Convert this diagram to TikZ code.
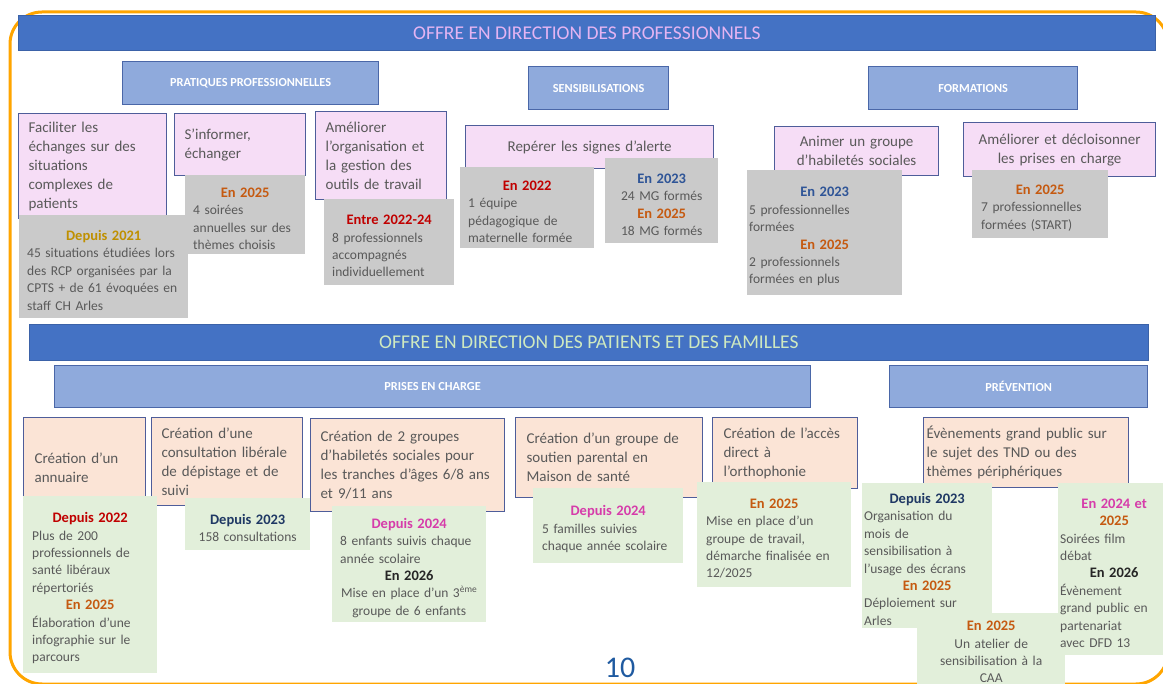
\documentclass[tikz,border=0pt]{standalone}
\usepackage{fontspec}
\setmainfont{Carlito}
\definecolor{bannerblue}{HTML}{4472C4}
\definecolor{bannerline}{HTML}{3B62A8}
\definecolor{catblue}{HTML}{8FAADC}
\definecolor{catline}{HTML}{4A67A8}
\definecolor{boxline}{HTML}{4E5D9A}
\definecolor{goalpink}{HTML}{F6DDF6}
\definecolor{actionpeach}{HTML}{FBE4D6}
\definecolor{resultgray}{HTML}{CACACA}
\definecolor{outcomegreen}{HTML}{E2EFDA}
\definecolor{bodygray}{HTML}{595959}
\definecolor{prolavender}{HTML}{E4B4F2}
\definecolor{patgreen}{HTML}{CFE9C0}
\definecolor{yrgold}{HTML}{BF9000}
\definecolor{yrorange}{HTML}{C55A11}
\definecolor{yrred}{HTML}{C00000}
\definecolor{yrblue}{HTML}{2F5597}
\definecolor{yrnavy}{HTML}{1F3864}
\definecolor{yrmagenta}{HTML}{D63CAA}
\definecolor{yrblack}{HTML}{262626}
\definecolor{framegold}{HTML}{FFA500}
\definecolor{pageblue}{HTML}{1F5AA0}
\tikzset{
  outerframe/.style={draw=framegold, line width=3pt, rounded corners=32pt},
  banner/.style={draw=bannerline, fill=bannerblue, line width=.8pt,
    anchor=north west, inner sep=0pt, font=\fontsize{19.5}{22}\selectfont},
  category/.style={draw=catline, fill=catblue, line width=1.2pt,
    anchor=north west, inner sep=0pt, text=white,
    font=\fontsize{12.3}{14}\selectfont\bfseries},
  goal/.style={draw=boxline, fill=goalpink, line width=1.2pt,
    anchor=north west, inner xsep=10pt, inner ysep=0pt, align=left,
    text=bodygray, font=\fontsize{15}{19}\selectfont},
  action/.style={goal, fill=actionpeach, inner xsep=11pt},
  result/.style={fill=resultgray, anchor=north west, inner xsep=8pt,
    inner ysep=0pt, align=left, text=bodygray,
    font=\fontsize{13.5}{17.4}\selectfont},
  outcome/.style={result, fill=outcomegreen, inner xsep=9pt},
  pagenum/.style={text=pageblue, font=\fontsize{30}{32}\selectfont}
}
% year heading and centred line inside a box
\newcommand{\yr}[2]{\par{\centering\fontsize{14.5}{17.4}\selectfont\bfseries\textcolor{#1}{#2}\par}}
\newcommand{\ctr}[1]{\par{\centering #1\par}}

\begin{document}
\begin{tikzpicture}[x=1pt, y=-1pt]
\useasboundingbox (0,0) rectangle (1163,684);
\draw[outerframe] (10,12) rectangle (1168,684);

% professionnels
\node[banner, minimum width=1137pt, minimum height=35pt, text=prolavender] (bpro) at (18,15) {OFFRE EN DIRECTION DES PROFESSIONNELS};
\node[category, minimum width=256pt, minimum height=43pt] (cpratiques) at (122,61) {PRATIQUES PROFESSIONNELLES};
\node[category, minimum width=140pt, minimum height=43pt] (csensib) at (528,66) {SENSIBILISATIONS};
\node[category, minimum width=209pt, minimum height=43pt] (cformations) at (868,66) {FORMATIONS};

\node[goal, text width=128pt, minimum height=105pt] (ffaciliter) at (18,113)
  {Faciliter les\\échanges sur des\\situations\\complexes de\\patients};
\node[goal, text width=111pt, minimum height=62pt] (finformer) at (174,113)
  {S’informer,\\échanger};
\node[goal, text width=111pt, minimum height=88pt] (fameliorer) at (315,111)
  {Améliorer\\l’organisation et\\la gestion des\\outils de travail};
\node[goal, text width=228pt, minimum height=43pt, align=center] (freperer) at (465,125)
  {Repérer les signes d’alerte};
\node[goal, text width=144pt, minimum height=49pt, align=center] (fanimer) at (774,126)
  {Animer un groupe\\d’habiletés sociales};
\node[goal, text width=172pt, minimum height=54pt, align=center] (fdecloisonner) at (963,122)
  {Améliorer et décloisonner\\les prises en charge};

\node[result, text width=153pt, minimum height=103pt, inner xsep=8pt] (gfaciliter) at (19,215)
  {\yr{yrgold}{Depuis 2021}45 situations étudiées lors\\des RCP organisées par la\\CPTS + de 61 évoquées en\\staff CH Arles};
\node[result, text width=104pt, minimum height=79pt] (ginformer) at (185,175)
  {\yr{yrorange}{En 2025}4 soirées\\annuelles sur des\\thèmes choisis};
\node[result, text width=114pt, minimum height=86pt] (gameliorer) at (324,199)
  {\yr{yrred}{Entre 2022-24}8 professionnels\\accompagnés\\individuellement};
\node[result, text width=118pt, minimum height=81pt] (greperer) at (460,167)
  {\yr{yrred}{En 2022}1 équipe\\pédagogique de\\maternelle formée};
\node[result, text width=97pt, minimum height=85pt] (gmg) at (605,158)
  {\yr{yrblue}{En 2023}\ctr{24 MG formés}\yr{yrorange}{En 2025}\ctr{18 MG formés}};
\node[result, text width=151pt, minimum height=125pt, inner xsep=2pt] (ganimer) at (747,170)
  {\yr{yrblue}{En 2023}5 professionnelles\\formées\yr{yrorange}{En 2025}2 professionnels\\formées en plus};
\node[result, text width=118pt, minimum height=68pt, inner xsep=9pt] (gdecloisonner) at (972,170)
  {\yr{yrorange}{En 2025}7 professionnelles\\formées (START)};

% patients et familles
\node[banner, minimum width=1119pt, minimum height=36pt, text=patgreen] (bpat) at (29,324) {OFFRE EN DIRECTION DES PATIENTS ET DES FAMILLES};
\node[category, minimum width=756pt, minimum height=42pt] (cprises) at (54,365) {PRISES EN CHARGE};
\node[category, minimum width=258pt, minimum height=42pt] (cprevention) at (889,365) {PRÉVENTION};

\node[action, text width=100pt, minimum height=100pt] (aannuaire) at (23,417)
  {Création d’un\\annuaire};
\node[action, text width=131pt, minimum height=88pt, inner xsep=10pt] (aconsult) at (151,417)
  {Création d’une\\consultation libérale\\de dépistage et de\\suivi};
\node[action, text width=174pt, minimum height=93pt, inner xsep=10pt] (agroupes) at (310,418)
  {Création de 2 groupes\\d’habiletés sociales pour\\les tranches d’âges 6/8 ans\\et 9/11 ans};
\node[action, text width=165pt, minimum height=80pt] (asoutien) at (515,417)
  {Création d’un groupe de\\soutien parental en\\Maison de santé};
\node[action, text width=123pt, minimum height=71pt] (aortho) at (712,417)
  {Création de l’accès\\direct à\\l’orthophonie};
\node[action, text width=199pt, minimum height=70pt, inner xsep=3pt] (aevenements) at (923,417)
  {Évènements grand public sur\\le sujet des TND ou des\\thèmes périphériques};

\node[outcome, text width=116pt, minimum height=177pt] (oannuaire) at (23,496)
  {\yr{yrred}{Depuis 2022}Plus de 200\\professionnels de\\santé libéraux\\répertoriés\yr{yrorange}{En 2025}Élaboration d’une\\infographie sur le\\parcours};
\node[outcome, text width=109pt, minimum height=52pt, inner xsep=8pt] (oconsult) at (185,498)
  {\yr{yrnavy}{Depuis 2023}\ctr{158 consultations}};
\node[outcome, text width=138pt, minimum height=116pt, inner xsep=8pt] (ogroupes) at (332,506)
  {\yr{yrmagenta}{Depuis 2024}8 enfants suivis chaque\\année scolaire\yr{yrblack}{En 2026}\ctr{Mise en place d’un 3\textsuperscript{ème}\\groupe de 6 enfants}};
\node[outcome, text width=132pt, minimum height=75pt] (osoutien) at (533,488)
  {\yr{yrmagenta}{Depuis 2024}5 familles suivies\\chaque année scolaire};
\node[outcome, text width=136pt, minimum height=105pt] (oortho) at (697,482)
  {\yr{yrorange}{En 2025}Mise en place d’un\\groupe de travail,\\démarche finalisée en\\12/2025};
\node[outcome, text width=126pt, minimum height=145pt, inner xsep=2pt] (oecrans) at (862,483)
  {\yr{yrnavy}{Depuis 2023}Organisation du\\mois de\\sensibilisation à\\l’usage des écrans\yr{yrorange}{En 2025}Déploiement sur\\Arles};
\node[outcome, text width=132pt, minimum height=78pt, inner xsep=8pt] (ocaa) at (917,613)
  {\yr{yrorange}{En 2025}\ctr{Un atelier de\\sensibilisation à la\\CAA}\vspace{12pt}};
\node[outcome, text width=108pt, minimum height=172pt, inner xsep=2pt] (ofilm) at (1058,483)
  {\yr{yrmagenta}{En 2024 et}\yr{yrorange}{2025}Soirées film\\débat\yr{yrblack}{En 2026}Évènement\\grand public en\\partenariat\\avec DFD 13};

\node[pagenum] (page) at (620,668) {10};
\end{tikzpicture}
\end{document}
